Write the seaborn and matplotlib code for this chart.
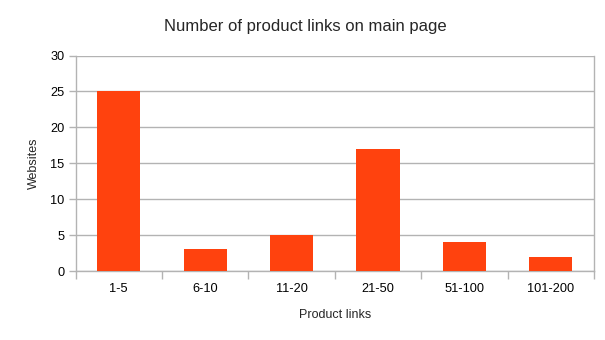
import matplotlib
matplotlib.use("Agg")
import matplotlib.pyplot as plt
import seaborn as sns
import pandas as pd

categories = ["1-5", "6-10", "11-20", "21-50", "51-100", "101-200"]
websites = [25, 3, 5, 17, 4, 2]
yticks = [0, 5, 10, 15, 20, 25, 30]

sns.set_style("white")
plt.rcParams['font.family'] = ['Liberation Sans', 'DejaVu Sans']

df = pd.DataFrame({"Product links": categories, "Websites": websites})

fig = plt.figure(figsize=(6.05, 3.4), dpi=100)
ax = fig.add_axes([75.5/605, 69/340, (594-75.5)/605, (271-55.5)/340])

sns.barplot(data=df, x="Product links", y="Websites", color="#ff420e",
            width=0.5, saturation=1, ax=ax, zorder=3, edgecolor="none")

ax.set_ylim(0, 30)
ax.set_xlim(-0.5, len(categories) - 0.5)
ax.set_yticks(yticks)
ax.yaxis.grid(True, color="#b3b3b3", linewidth=1, zorder=0)
ax.set_axisbelow(True)

ax.spines["top"].set_visible(False)
for s in ["left", "right", "bottom"]:
    ax.spines[s].set_visible(True)
    ax.spines[s].set_color("#b3b3b3")
    ax.spines[s].set_linewidth(1)

# x ticks at category boundaries
ax.set_xticks([i - 0.5 for i in range(len(categories) + 1)], minor=True)
ax.set_xticks(range(len(categories)))
ax.set_xticklabels(categories)
ax.tick_params(axis="x", which="major", length=0, pad=9, labelsize=9.2, colors="black")
ax.tick_params(axis="x", which="minor", length=6, color="#b3b3b3", width=1, bottom=True)
ax.tick_params(axis="y", which="major", length=5, color="#b3b3b3", width=1, pad=3,
               labelsize=9.2, labelcolor="black", left=True)

ax.set_xlabel("Product links", fontsize=9, labelpad=10)
ax.set_ylabel("Websites", fontsize=9, labelpad=7)
fig.suptitle("Number of product links on main page", fontsize=12, x=0.505, y=1 - 26/340, va="center")

fig.savefig("out.png", dpi=100)
